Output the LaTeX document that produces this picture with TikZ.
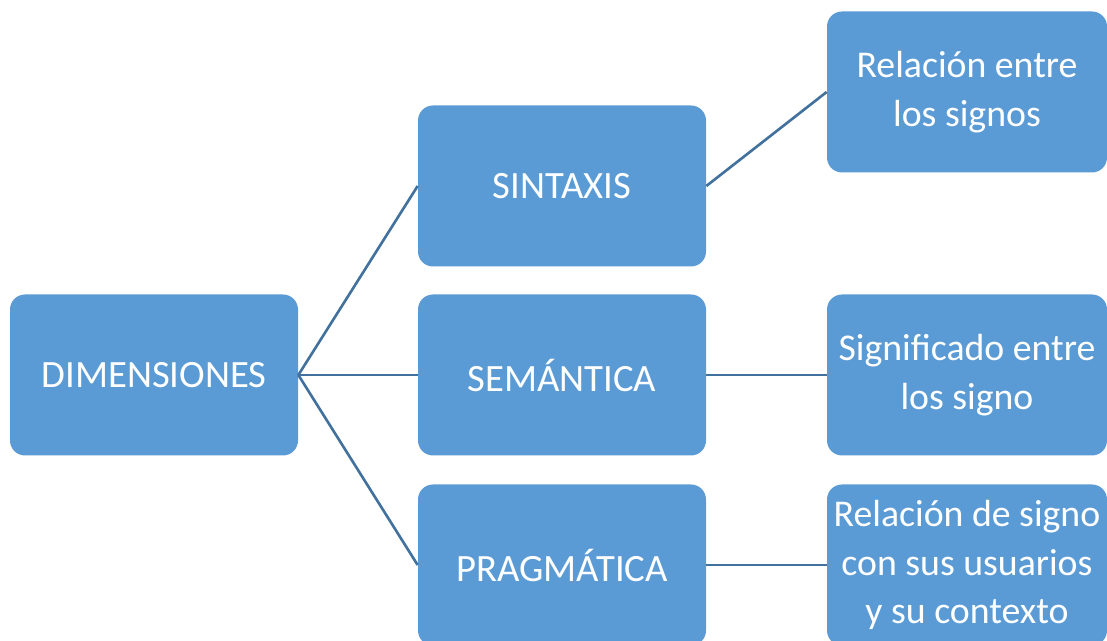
\documentclass[tikz,border=0pt]{standalone}
\usepackage{fontspec}
\setmainfont{Carlito}
\usepackage{tikz}
\usetikzlibrary{positioning}
\definecolor{boxblue}{RGB}{91,155,213}
\definecolor{lineblue}{RGB}{65,113,156}

\begin{document}
\begin{tikzpicture}[
    block/.style={rectangle, fill=boxblue, text=white, rounded corners=0.3cm,
                  minimum height=3.22cm, minimum width=5.76cm, align=center,
                  font=\fontsize{22}{26}\selectfont},
    leaf/.style={block, minimum width=5.6cm, font=\fontsize{21.5}{27.5}\selectfont},
    link/.style={lineblue, line width=1.5pt}
]
    \useasboundingbox (0,0) rectangle (22.14,12.82);
    \clip (0,0) rectangle (22.14,12.82);

    % Main boxes
    \node[block] (dim) at (3.08,5.32) {DIMENSIONES};
    \node[block] (sintaxis) at (11.24,9.10) {SINTAXIS};
    \node[block] (semantica) at (11.24,5.32) {SEMÁNTICA};
    \node[block] (pragmatica) at (11.24,1.52) {PRAGMÁTICA};

    % Right boxes
    \node[leaf] (relacion) at (19.34,10.98) {Relación entre\\los signos};
    \node[leaf] (significado) at (19.34,5.32) {Significado entre\\los signo};
    \node[leaf] (usuarios) at (19.34,1.52) {Relación de signo\\con sus usuarios\\y su contexto};

    % Connections
    \draw[link] (dim.east) -- (sintaxis.west);
    \draw[link] (dim.east) -- (semantica.west);
    \draw[link] (dim.east) -- (pragmatica.west);

    \draw[link] (sintaxis.east) -- (relacion.west);
    \draw[link] (semantica.east) -- (significado.west);
    \draw[link] (pragmatica.east) -- (usuarios.west);
\end{tikzpicture}
\end{document}
